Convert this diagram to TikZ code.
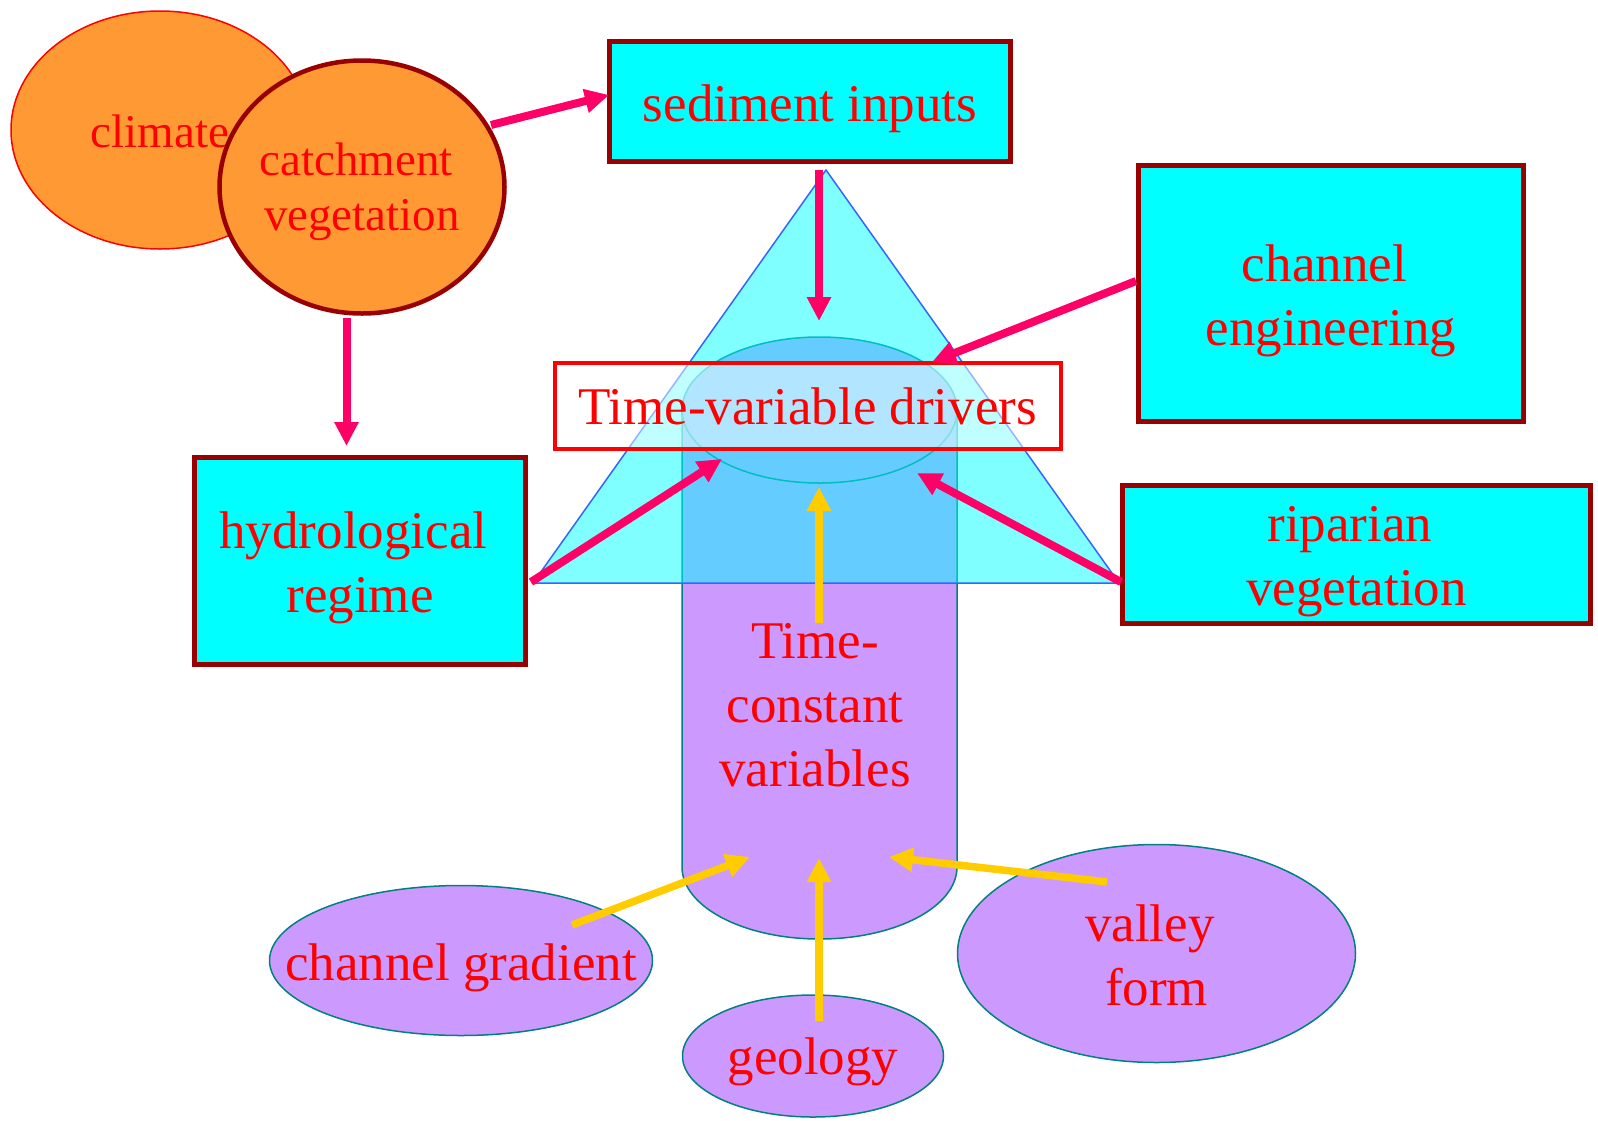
\documentclass[tikz,border=0pt]{standalone}
\usepackage{fontspec}
\setmainfont{Liberation Serif}
\usetikzlibrary{shapes.geometric,arrows.meta}
\definecolor{orng}{HTML}{FF9933}
\definecolor{dred}{HTML}{990000}
\definecolor{txtred}{HTML}{FF0000}
\definecolor{pinkarr}{HTML}{FF0066}
\definecolor{yelarr}{HTML}{FFCC00}
\definecolor{lilac}{HTML}{CC99FF}
\definecolor{tealb}{HTML}{008080}
\definecolor{triblue}{HTML}{3366FF}
\definecolor{cyanf}{HTML}{00FFFF}
\newcommand{\tsp}{\hspace*{0.25em}}
\begin{document}
\begin{tikzpicture}[x=1pt,y=-1pt,
  bigtxt/.style={font=\fontsize{53}{64}\selectfont, text=txtred, align=center},
  smalltxt/.style={font=\fontsize{47}{55}\selectfont, text=txtred, align=center},
  drvbox/.style={draw=dred, line width=5.3pt, fill=cyanf, rectangle, inner sep=0pt},
  oval/.style={ellipse, inner sep=0pt},
  pinkarrow/.style={draw=pinkarr, line width=8pt, -{Triangle[length=24pt,width=23pt]}},
  yelarrow/.style={draw=yelarr, line width=7.5pt, -{Triangle[length=24pt,width=23pt]}},
]
\useasboundingbox (0,0) rectangle (1598,1120);

% top-left ovals
\node[oval, fill=orng, draw=txtred, line width=1.5pt, minimum width=298pt, minimum height=238pt,
      label={[smalltxt, yshift=-1pt]center:climate}] (clim) at (160,130) {};
\node[oval, fill=orng, draw=dred, line width=4.5pt, minimum width=285pt, minimum height=253pt,
      label={[smalltxt, yshift=-4.5pt]center:{catchment\tsp\\vegetation}}] (catch) at (362,187) {};

% boxes
\node[drvbox, minimum width=401pt, minimum height=120pt,
      label={[bigtxt, yshift=-6.9pt]center:{sediment inputs}}] (sed) at (810,101.5) {};
\node[drvbox, minimum width=385pt, minimum height=256pt,
      label={[bigtxt, yshift=-7.2pt]center:{channel\tsp\\engineering}}] (eng) at (1331,293.5) {};
\node[drvbox, minimum width=331pt, minimum height=207pt,
      label={[bigtxt, yshift=-6.7pt]center:{hydrological\tsp\\regime}}] (hyd) at (360,561) {};
\node[drvbox, minimum width=468pt, minimum height=138pt,
      label={[bigtxt, yshift=-6.7pt]center:{riparian\tsp\\vegetation}}] (rip) at (1356.5,554.5) {};

% cylinder
\fill[lilac] (682,410) -- (682,867)
  arc[start angle=180, end angle=360, x radius=137.5pt, y radius=72pt] -- (957,410) -- cycle;
\draw[tealb, line width=1.5pt] (682,410) -- (682,867)
  arc[start angle=180, end angle=360, x radius=137.5pt, y radius=72pt] -- (957,410);
\filldraw[fill=lilac, draw=tealb, line width=1.5pt] (819.5,410) ellipse [x radius=137.5pt, y radius=73pt];

% triangle
\filldraw[fill=cyanf, fill opacity=0.5, draw=triblue, line width=1.5pt]
  (826,170) -- (533,583) -- (1119,583) -- cycle;

% time-variable drivers box
\node[draw=txtred, line width=4pt, fill=white, fill opacity=0.5, text opacity=1,
      minimum width=506pt, minimum height=86pt, inner sep=0pt, bigtxt] (tvd) at (807.5,406) {Time-variable drivers};

\node[bigtxt] (tcv) at (815,705.4) {Time-\\constant\\variables};

% bottom ovals
\node[oval, fill=lilac, draw=tealb, line width=1.5pt, minimum width=383pt, minimum height=150pt,
      label={[bigtxt, yshift=-7pt]center:channel gradient}] (grad) at (461,960.5) {};
\node[oval, fill=lilac, draw=tealb, line width=1.5pt, minimum width=261pt, minimum height=122pt,
      label={[bigtxt, yshift=-5.6pt]center:geology}] (geo) at (813,1056) {};
\node[oval, fill=lilac, draw=tealb, line width=1.5pt, minimum width=398pt, minimum height=218pt,
      label={[bigtxt, yshift=-2pt]center:{valley\tsp\\form}}] (val) at (1156.5,953.5) {};

% arrow end points
\coordinate (a1s) at (491,125);  \coordinate (a1e) at (609,95);
\coordinate (a2s) at (346.5,318); \coordinate (a2e) at (346.5,446);
\coordinate (a3s) at (819,170);  \coordinate (a3e) at (819,321);
\coordinate (a4s) at (1136,281); \coordinate (a4e) at (932,362);
\coordinate (a5s) at (531,582);  \coordinate (a5e) at (722,459);
\coordinate (a6s) at (1121,582); \coordinate (a6e) at (917,473);
\coordinate (a7s) at (819,623);  \coordinate (a7e) at (819,487);
\coordinate (a8s) at (572,925);  \coordinate (a8e) at (750,857);
\coordinate (a9s) at (819,1021); \coordinate (a9e) at (819,858);
\coordinate (a10s) at (1107,882); \coordinate (a10e) at (889,857);

\draw[pinkarrow] (a1s) -- (a1e);
\draw[pinkarrow] (a2s) -- (a2e);
\draw[pinkarrow] (a3s) -- (a3e);
\draw[pinkarrow] (a4s) -- (a4e);
\draw[pinkarrow] (a5s) -- (a5e);
\draw[pinkarrow] (a6s) -- (a6e);
\draw[yelarrow] (a7s) -- (a7e);
\draw[yelarrow] (a8s) -- (a8e);
\draw[yelarrow] (a9s) -- (a9e);
\draw[yelarrow] (a10s) -- (a10e);
\end{tikzpicture}
\end{document}
